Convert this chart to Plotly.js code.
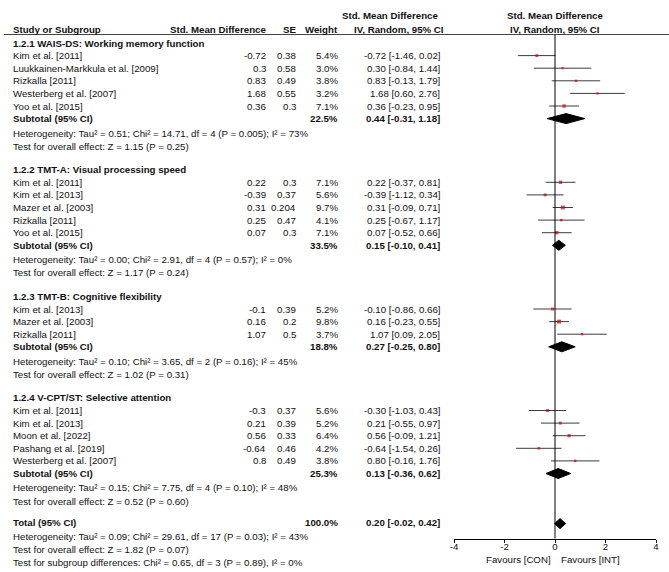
<!DOCTYPE html>
<html>
<head>
<meta charset="utf-8">
<script src="https://cdn.plot.ly/plotly-3.0.1.min.js"></script>
<style>html,body{margin:0;padding:0;background:#fff;}#chart{width:669px;height:572px;}</style>
</head>
<body>
<div id="chart"></div>
<script>
// ---------- DATA ----------
const groupTitles = [
  "1.2.1 WAIS-DS: Working memory function",
  "1.2.2 TMT-A: Visual processing speed",
  "1.2.3 TMT-B: Cognitive flexibility",
  "1.2.4 V-CPT/ST: Selective attention"
];
const studyNames = [
  ["Kim et al. [2011]", "Luukkainen-Markkula et al. [2009]", "Rizkalla [2011]", "Westerberg et al. [2007]", "Yoo et al. [2015]"],
  ["Kim et al. [2011]", "Kim et al. [2013]", "Mazer et al. [2003]", "Rizkalla [2011]", "Yoo et al. [2015]"],
  ["Kim et al. [2013]", "Mazer et al. [2003]", "Rizkalla [2011]"],
  ["Kim et al. [2011]", "Kim et al. [2013]", "Moon et al. [2022]", "Pashang et al. [2019]", "Westerberg et al. [2007]"]
];
const smd = [
  [-0.72, 0.3, 0.83, 1.68, 0.36],
  [0.22, -0.39, 0.31, 0.25, 0.07],
  [-0.1, 0.16, 1.07],
  [-0.3, 0.21, 0.56, -0.64, 0.8]
];
const se = [
  [0.38, 0.58, 0.49, 0.55, 0.3],
  [0.3, 0.37, 0.204, 0.47, 0.3],
  [0.39, 0.2, 0.5],
  [0.37, 0.39, 0.33, 0.46, 0.49]
];
const weight = [
  [5.4, 3.0, 3.8, 3.2, 7.1],
  [7.1, 5.6, 9.7, 4.1, 7.1],
  [5.2, 9.8, 3.7],
  [5.6, 5.2, 6.4, 4.2, 3.8]
];
const ciLow = [
  [-1.46, -0.84, -0.13, 0.60, -0.23],
  [-0.37, -1.12, -0.09, -0.67, -0.52],
  [-0.86, -0.23, 0.09],
  [-1.03, -0.55, -0.09, -1.54, -0.16]
];
const ciHigh = [
  [0.02, 1.44, 1.79, 2.76, 0.95],
  [0.81, 0.34, 0.71, 1.17, 0.66],
  [0.66, 0.55, 2.05],
  [0.43, 0.97, 1.21, 0.26, 1.76]
];
const subWeight = [22.5, 33.5, 18.8, 25.3];
const subEst = [0.44, 0.15, 0.27, 0.13];
const subLow = [-0.31, -0.10, -0.25, -0.36];
const subHigh = [1.18, 0.41, 0.80, 0.62];
const hetText = [
  "Heterogeneity: Tau² = 0.51; Chi² = 14.71, df = 4 (P = 0.005); I² = 73%",
  "Heterogeneity: Tau² = 0.00; Chi² = 2.91, df = 4 (P = 0.57); I² = 0%",
  "Heterogeneity: Tau² = 0.10; Chi² = 3.65, df = 2 (P = 0.16); I² = 45%",
  "Heterogeneity: Tau² = 0.15; Chi² = 7.75, df = 4 (P = 0.10); I² = 48%"
];
const testText = [
  "Test for overall effect: Z = 1.15 (P = 0.25)",
  "Test for overall effect: Z = 1.17 (P = 0.24)",
  "Test for overall effect: Z = 1.02 (P = 0.31)",
  "Test for overall effect: Z = 0.52 (P = 0.60)"
];
const totalWeight = 100.0;
const totalEst = 0.20, totalLow = -0.02, totalHigh = 0.42;
const totalTexts = [
  "Heterogeneity: Tau² = 0.09; Chi² = 29.61, df = 17 (P = 0.03); I² = 43%",
  "Test for overall effect: Z = 1.82 (P = 0.07)",
  "Test for subgroup differences: Chi² = 0.65, df = 3 (P = 0.89), I² = 0%"
];
const tickValues = [-4, -2, 0, 2, 4];
const tickLabels = ["-4", "-2", "0", "2", "4"];

// ---------- LAYOUT HELPERS ----------
const W = 669, H = 572;
const FONT = "Liberation Sans, Arial, sans-serif";
const FS = 9.7;
const TXT = "#111";
const L = 12.6;          // row height
const HET_GAP = 14.4;    // subtotal -> heterogeneity
const GROUP_GAP = 23.5;  // test -> next header
const COL = {name: 12, smd: 267, se: 296.5, wt: 338.5, ci: 441, plot0: 555};

const annotations = [];
function ann(text, xpx, ypx, anchor, bold) {
  annotations.push({
    text: bold ? "<b>" + text + "</b>" : text,
    x: xpx / W, xref: "paper", y: ypx, yref: "y",
    xanchor: anchor, yanchor: "middle", showarrow: false,
    borderpad: 0,
    font: {family: FONT, size: FS, color: TXT}
  });
}
const fmt2 = v => v.toFixed(2);
const ciStr = (e, lo, hi) => fmt2(e) + " [" + fmt2(lo) + ", " + fmt2(hi) + "]";

// headers
ann("Study or Subgroup", COL.name, 29.5, "left", true);
ann("Std. Mean Difference", COL.smd, 29.5, "right", true);
ann("SE", COL.se, 29.5, "right", true);
ann("Weight", COL.wt, 29.5, "right", true);
ann("Std. Mean Difference", 390, 15.5, "center", true);
ann("IV, Random, 95% CI", 398.5, 29.5, "center", true);
ann("Std. Mean Difference", COL.plot0, 15.5, "center", true);
ann("IV, Random, 95% CI", COL.plot0, 29.5, "center", true);

const traces = [];
const lineX = [], lineY = [], sqX = [], sqY = [], sqS = [];
const diamonds = [];

let y = 43;
let lastTest = 0;
for (let g = 0; g < groupTitles.length; g++) {
  ann(groupTitles[g], COL.name, y, "left", true);
  y += L;
  for (let i = 0; i < studyNames[g].length; i++) {
    ann(studyNames[g][i], COL.name, y, "left", false);
    ann(String(smd[g][i]), COL.smd, y, "right", false);
    ann(String(se[g][i]), COL.se, y, "right", false);
    ann(weight[g][i].toFixed(1) + "%", COL.wt, y, "right", false);
    ann(ciStr(smd[g][i], ciLow[g][i], ciHigh[g][i]), COL.ci, y, "right", false);
    lineX.push(ciLow[g][i], ciHigh[g][i], null);
    lineY.push(y, y, null);
    sqX.push(smd[g][i]); sqY.push(y); sqS.push(1.25 * Math.sqrt(weight[g][i]));
    y += L;
  }
  ann("Subtotal (95% CI)", COL.name, y, "left", true);
  ann(subWeight[g].toFixed(1) + "%", COL.wt, y, "right", true);
  ann(ciStr(subEst[g], subLow[g], subHigh[g]), COL.ci, y, "right", true);
  diamonds.push({lo: subLow[g], e: subEst[g], hi: subHigh[g], y: y});
  y += HET_GAP;
  ann(hetText[g], COL.name, y, "left", false);
  y += L + 0.6;
  ann(testText[g], COL.name, y, "left", false);
  lastTest = y;
  y += GROUP_GAP;
}
let ty = lastTest + 21;
ann("Total (95% CI)", COL.name, ty, "left", true);
ann(totalWeight.toFixed(1) + "%", COL.wt, ty, "right", true);
ann(ciStr(totalEst, totalLow, totalHigh), COL.ci, ty, "right", true);
diamonds.push({lo: totalLow, e: totalEst, hi: totalHigh, y: ty + 1.5});
let yy = ty + 14;
for (let k = 0; k < totalTexts.length; k++) {
  ann(totalTexts[k], COL.name, yy, "left", false);
  yy += 13;
}

traces.push({
  type: "scatter", mode: "lines", x: lineX, y: lineY,
  line: {color: "#3c3c3c", width: 1}, hoverinfo: "skip", showlegend: false
});
traces.push({
  type: "scatter", mode: "markers", x: sqX, y: sqY,
  marker: {symbol: "square", size: sqS, color: "#d40000", line: {width: 0}},
  hoverinfo: "skip", showlegend: false
});
const DH = 5;
diamonds.forEach(d => {
  traces.push({
    type: "scatter", mode: "lines",
    x: [d.lo, d.e, d.hi, d.e, d.lo],
    y: [d.y, d.y - DH, d.y, d.y + DH, d.y],
    fill: "toself", fillcolor: "#000", line: {color: "#000", width: 1},
    hoverinfo: "skip", showlegend: false
  });
});

const AXIS_Y = 538.5;
ann("Favours [CON]", 552, 559.5, "right", false);
ann("Favours [INT]", 560, 559.5, "left", false);

const layout = {
  width: W, height: H,
  margin: {l: 0, r: 0, t: 0, b: 0, pad: 0},
  paper_bgcolor: "#fff", plot_bgcolor: "rgba(0,0,0,0)",
  showlegend: false,
  xaxis: {
    domain: [454 / W, 656 / W], range: [-4, 4], autorange: false,
    anchor: "free", position: (H - AXIS_Y) / H,
    tickmode: "array", tickvals: tickValues, ticktext: tickLabels,
    showline: true, linecolor: "#000", linewidth: 1,
    ticks: "outside", ticklen: 3, tickcolor: "#000", tickwidth: 1,
    ticklabelstandoff: -4,
    showgrid: false, zeroline: false, automargin: false,
    tickfont: {family: FONT, size: FS, color: TXT}
  },
  yaxis: {
    domain: [0, 1], range: [H, 0], autorange: false, visible: false,
    showgrid: false, zeroline: false, automargin: false
  },
  shapes: [
    {type: "line", xref: "paper", yref: "y", x0: 4 / W, x1: 1, y0: 34.5, y1: 34.5,
     line: {color: "#444", width: 1}},
    {type: "line", xref: "x", yref: "y", x0: 0, x1: 0, y0: 35, y1: AXIS_Y,
     line: {color: "#000", width: 1}}
  ],
  annotations: annotations
};

Plotly.newPlot("chart", traces, layout, {staticPlot: true, displayModeBar: false});
</script>
</body>
</html>
